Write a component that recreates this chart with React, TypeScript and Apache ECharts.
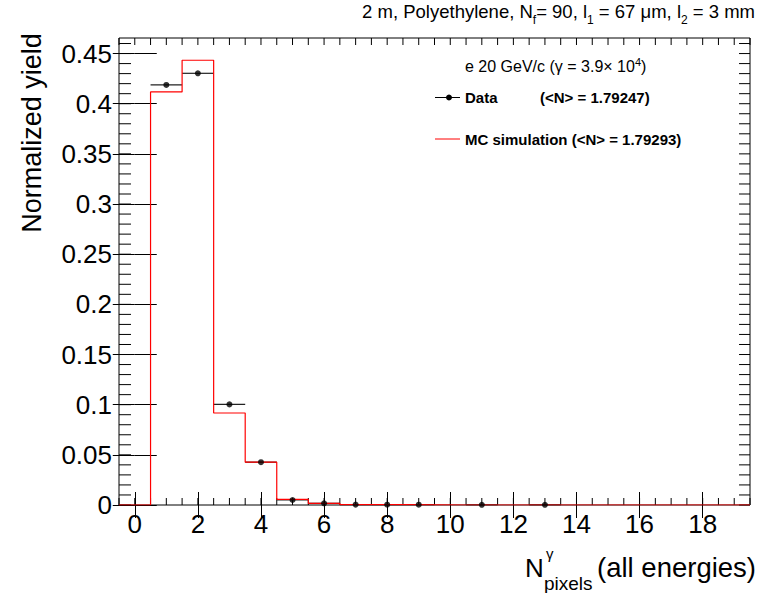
import React, { useEffect, useRef } from "react";
import * as echarts from "echarts";

// Bin centres (N pixels)
const binCenters = [0, 1, 2, 3, 4, 5, 6, 7, 8, 9, 10, 11, 12, 13, 14, 15, 16, 17, 18, 19];
// MC simulation histogram (red)
const mcValues = [0, 0.4117, 0.4433, 0.0917, 0.0427, 0.0057, 0.0017, 0.0004, 0.0003, 0.0002, 0, 0, 0, 0, 0, 0, 0, 0, 0, 0];
// Data points (black)
const dataValues = [0, 0.4187, 0.4303, 0.1003, 0.0427, 0.005, 0.0017, 0.0004, 0.0003, 0.0003, 0, 0.0002, 0, 0.0002, 0, 0, 0, 0, 0, 0];

const xMajorTicks = [0, 2, 4, 6, 8, 10, 12, 14, 16, 18];
const xMinorTicks = Array.from({ length: 41 }, (_, i) => -0.5 + i * 0.5);
const yMajorTicks = [0, 0.05, 0.1, 0.15, 0.2, 0.25, 0.3, 0.35, 0.4, 0.45];
const yMinorTicks = Array.from({ length: 47 }, (_, i) => i / 100);

const X_MIN = -0.5;
const X_MAX = 19.5;
const Y_MAX = 0.4655;
const FONT = "Liberation Sans, Arial, sans-serif";

export default function App() {
  const ref = useRef<HTMLDivElement>(null);
  useEffect(() => {
    if (!ref.current) return;
    const chart = echarts.init(ref.current, null, { renderer: "svg" });

    const mcLine: number[][] = [];
    binCenters.forEach((c, i) => {
      mcLine.push([c - 0.5, mcValues[i]]);
      mcLine.push([c + 0.5, mcValues[i]]);
    });
    const dataPts = binCenters
      .map((c, i) => [c, dataValues[i]])
      .filter((p) => p[1] > 0);

    const tickStyle = { color: "#000", width: 1 };
    const mkX = (pos: string, labels: boolean) => ({
      type: "value",
      min: X_MIN,
      max: X_MAX,
      position: pos,
      axisLine: { show: false },
      splitLine: { show: false },
      axisTick: {
        show: true,
        inside: true,
        length: 13,
        customValues: xMajorTicks,
        lineStyle: tickStyle,
      },
      axisLabel: labels
        ? { show: true, customValues: xMajorTicks, fontSize: 26, margin: 6, color: "#000", fontFamily: FONT }
        : { show: false },
    });
    const mkY = (pos: string, labels: boolean) => ({
      type: "value",
      min: 0,
      max: Y_MAX,
      position: pos,
      axisLine: { show: false },
      splitLine: { show: false },
      axisTick: {
        show: true,
        inside: true,
        length: 22,
        customValues: yMajorTicks,
        lineStyle: tickStyle,
      },
      axisLabel: labels
        ? {
            show: true,
            customValues: yMajorTicks,
            fontSize: 26,
            margin: 7,
            color: "#000",
            fontFamily: FONT,
            formatter: (v: number) => String(v),
          }
        : { show: false },
    });

    const tickLine = (a: number[], b: number[]) => ({
      type: "line",
      shape: { x1: a[0], y1: a[1], x2: b[0], y2: b[1] },
      style: { stroke: "#000", lineWidth: 1 },
    });

    chart.setOption({
      animation: false,
      backgroundColor: "#fff",
      grid: {
        left: 119,
        right: 24,
        top: 38,
        bottom: 88,
        show: true,
        borderColor: "#000",
        borderWidth: 1,
        backgroundColor: "transparent",
      },
      xAxis: [mkX("bottom", true), mkX("top", false)],
      yAxis: [mkY("left", true), mkY("right", false)],
      series: [
        {
          type: "custom",
          name: "x minor ticks",
          data: xMinorTicks.map((v) => [v, 0]),
          clip: false,
          silent: true,
          renderItem: (params: any, api: any) => {
            const v = api.value(0);
            const b = api.coord([v, 0]);
            const t = api.coord([v, Y_MAX]);
            return {
              type: "group",
              children: [tickLine(b, [b[0], b[1] - 7]), tickLine(t, [t[0], t[1] + 7])],
            };
          },
          z: 1,
        },
        {
          type: "custom",
          name: "y minor ticks",
          data: yMinorTicks.map((v) => [X_MIN, v]),
          clip: false,
          silent: true,
          renderItem: (params: any, api: any) => {
            const v = api.value(1);
            const l = api.coord([X_MIN, v]);
            const r = api.coord([X_MAX, v]);
            return {
              type: "group",
              children: [tickLine(l, [l[0] + 12, l[1]]), tickLine(r, [r[0] - 11, r[1]])],
            };
          },
          z: 1,
        },
        {
          type: "custom",
          name: "Data errors",
          data: dataPts,
          renderItem: (params: any, api: any) => {
            const x = api.value(0);
            const y = api.value(1);
            const p1 = api.coord([x - 0.5, y]);
            const p2 = api.coord([x + 0.5, y]);
            return {
              type: "line",
              shape: { x1: p1[0], y1: p1[1], x2: p2[0], y2: p2[1] },
              style: { stroke: "#222", lineWidth: 1.2 },
            };
          },
          z: 2,
        },
        {
          type: "line",
          name: "MC simulation",
          data: mcLine,
          symbol: "none",
          lineStyle: { color: "#ff0000", width: 1.2 },
          z: 3,
        },
        {
          type: "scatter",
          name: "Data",
          data: dataPts,
          symbol: "circle",
          symbolSize: 6,
          itemStyle: { color: "#000" },
          z: 4,
        },
      ],
      graphic: [
        {
          type: "text",
          right: 19,
          top: 2,
          style: {
            text: "{t|2 m, Polyethylene, N}{s|f}{t|= 90, l}{s|1}{t| = 67 μm, l}{s|2}{t| = 3 mm}",
            fill: "#000",
            rich: {
              t: { fontSize: 18.5, fontFamily: FONT, lineHeight: 28, verticalAlign: "middle", fill: "#000" },
              s: { fontSize: 12, fontFamily: FONT, lineHeight: 12, verticalAlign: "bottom", fill: "#000" },
            },
          },
        },
        {
          type: "text",
          x: 32,
          y: 133,
          rotation: Math.PI / 2,
          style: {
            text: "Normalized yield",
            fontSize: 27,
            fontFamily: FONT,
            fill: "#000",
            textAlign: "center",
            textVerticalAlign: "middle",
          },
        },
        {
          type: "text",
          x: 525,
          y: 568,
          style: { text: "N", fontSize: 26, fontFamily: FONT, fill: "#000", textVerticalAlign: "middle" },
        },
        {
          type: "text",
          x: 546,
          y: 553,
          style: { text: "γ", fontSize: 15, fontFamily: FONT, fill: "#000", textVerticalAlign: "middle" },
        },
        {
          type: "text",
          x: 544,
          y: 583,
          style: { text: "pixels", fontSize: 19, fontFamily: FONT, fill: "#000", textVerticalAlign: "middle" },
        },
        {
          type: "text",
          x: 756,
          y: 567.5,
          style: {
            text: "(all energies)",
            fontSize: 27.5,
            fontFamily: FONT,
            fill: "#000",
            textAlign: "right",
            textVerticalAlign: "middle",
          },
        },
        {
          type: "text",
          x: 465,
          y: 56,
          style: {
            text: "{t|e 20 GeV/c (γ = 3.9× 10}{p|4}{t|)}",
            rich: {
              t: { fontSize: 16, fontFamily: FONT, lineHeight: 20, verticalAlign: "middle", fill: "#000" },
              p: { fontSize: 11, fontFamily: FONT, lineHeight: 11, verticalAlign: "top", fill: "#000" },
            },
          },
        },
        {
          type: "line",
          shape: { x1: 435, y1: 97.5, x2: 460, y2: 97.5 },
          style: { stroke: "#000", lineWidth: 1 },
        },
        {
          type: "circle",
          shape: { cx: 449, cy: 97.5, r: 3 },
          style: { fill: "#000" },
        },
        {
          type: "text",
          x: 465,
          y: 97.5,
          style: { text: "Data", fontSize: 15, fontWeight: "bold", fontFamily: FONT, fill: "#000", textVerticalAlign: "middle" },
        },
        {
          type: "text",
          x: 540,
          y: 97.5,
          style: { text: "(<N> = 1.79247)", fontSize: 15, fontWeight: "bold", fontFamily: FONT, fill: "#000", textVerticalAlign: "middle" },
        },
        {
          type: "line",
          shape: { x1: 435, y1: 139, x2: 460, y2: 139 },
          style: { stroke: "#ff0000", lineWidth: 1 },
        },
        {
          type: "text",
          x: 465,
          y: 139,
          style: {
            text: "MC simulation (<N> = 1.79293)",
            fontSize: 15,
            fontWeight: "bold",
            fontFamily: FONT,
            fill: "#000",
            textVerticalAlign: "middle",
          },
        },
      ],
    });
    return () => chart.dispose();
  }, []);
  return (
    <div
      ref={ref}
      style={{ position: "fixed", left: 0, top: 0, width: 774, height: 593, background: "#fff" }}
    />
  );
}
